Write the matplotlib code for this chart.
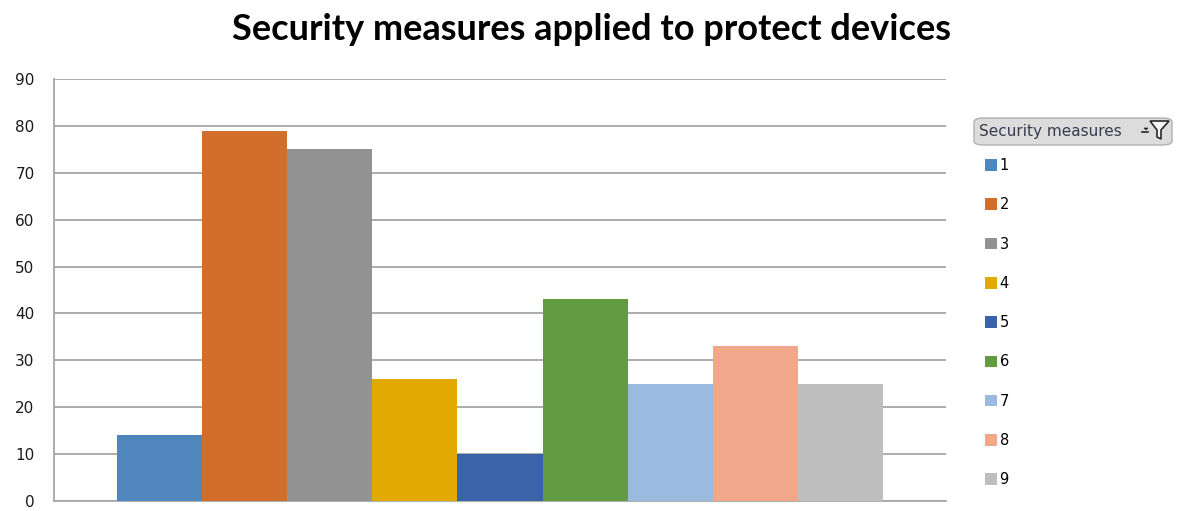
import matplotlib
matplotlib.use("Agg")
import matplotlib.pyplot as plt
from matplotlib.patches import FancyBboxPatch, Polygon
import numpy as np

# Data
measures = ["1", "2", "3", "4", "5", "6", "7", "8", "9"]
values = [14, 79, 75, 26, 10, 43, 25, 33, 25]
colors = ["#4F86BC", "#D26D2B", "#929292", "#E1A901", "#3B63AA",
          "#629B41", "#9ABAE0", "#F0A78A", "#BEBEBE"]
yticks = [0, 10, 20, 30, 40, 50, 60, 70, 80, 90]
title = "Security measures applied to protect devices"
legend_title = "Security measures"

W, H = 1188, 511
fig = plt.figure(figsize=(W / 100, H / 100), dpi=100)
ax = fig.add_axes([54 / W, 10 / H, 892 / W, 422 / H])

n = len(values)
group = 0.859
bw = group / n
xs = -group / 2 + bw / 2 + np.arange(n) * bw
bars = []
for x, v, c, lab in zip(xs, values, colors, measures):
    b = ax.bar(x, v, width=bw, color=c, label=lab, zorder=3, linewidth=0)
    bars.append(b)

ax.set_xlim(-0.5, 0.5)
ax.set_ylim(0, 90)
ax.set_yticks(yticks)
ax.set_xticks([])
ax.yaxis.grid(True, color="#A6A6A6", linewidth=1.3, zorder=0)
for s in ["top", "right"]:
    ax.spines[s].set_visible(False)
for s in ["left", "bottom"]:
    ax.spines[s].set_color("#A6A6A6")
    ax.spines[s].set_linewidth(1.3)
ax.tick_params(axis="y", length=0, pad=14, labelsize=11, labelcolor="#1a1a1a")
for t in ax.get_yticklabels():
    t.set_fontfamily("DejaVu Sans")

fig.text(592 / W, 1 - 29 / H, title, ha="center", va="center",
         fontsize=26, fontweight="bold", family="Lato", color="black")

# Legend header (filter button)
hdr = FancyBboxPatch((974 / W, 1 - 145 / H), 198 / W, 27 / H,
                     boxstyle="round,pad=0,rounding_size=0.008",
                     transform=fig.transFigure, facecolor="#DCDCDC",
                     edgecolor="#B0B0B0", linewidth=1)
fig.add_artist(hdr)
fig.text(979 / W, 1 - 131 / H, legend_title, ha="left", va="center",
         fontsize=11, family="DejaVu Sans", color="#3A3A50")
funnel = Polygon([(1150 / W, 1 - 121 / H), (1169 / W, 1 - 121 / H),
                  (1161 / W, 1 - 130 / H), (1161 / W, 1 - 139 / H),
                  (1157 / W, 1 - 137 / H), (1157 / W, 1 - 130 / H)],
                 closed=True, transform=fig.transFigure,
                 facecolor="#F4F4F4", edgecolor="#2A2A2A", linewidth=1.2)
fig.add_artist(funnel)
fig.add_artist(plt.Line2D([1142 / W, 1148 / W], [1 - 132 / H, 1 - 132 / H],
                          transform=fig.transFigure, color="#2A2A2A", linewidth=1.2))
fig.add_artist(Polygon([(1144 / W, 1 - 128 / H), (1148 / W, 1 - 128 / H),
                        (1146 / W, 1 - 130 / H)], closed=True,
                       transform=fig.transFigure, facecolor="#2A2A2A",
                       edgecolor="#2A2A2A", linewidth=0.5))

fig.legend(handles=[b[0] for b in bars], labels=measures,
           loc="upper left", bbox_to_anchor=(985 / W, 1 - 158 / H),
           frameon=False, fontsize=10.5, handlelength=0.85, handleheight=0.85,
           handletextpad=0.15, labelspacing=1.665, borderaxespad=0, borderpad=0)

fig.savefig("out.png", dpi=100)
